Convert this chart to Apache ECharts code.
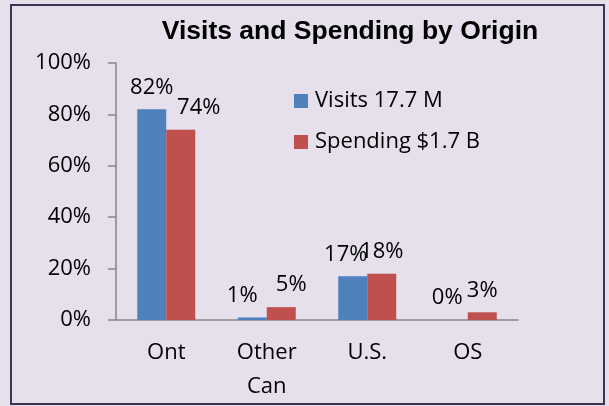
<!DOCTYPE html>
<html>
<head>
<meta charset="utf-8">
<script src="https://cdn.jsdelivr.net/npm/echarts@6/dist/echarts.min.js"></script>
<style>
  html, body { margin: 0; padding: 0; background: #E5E0EC; }
  #frame { position: absolute; left: 10px; top: 4px; width: 591px; height: 397px;
    border: 2px solid #3F3151; }
  #chart { position: absolute; left: 0; top: 0; width: 609px; height: 406px; }
</style>
</head>
<body>
<div id="frame"></div>
<div id="chart"></div>
<script>
// ── data ──
const categories = ["Ont", "Other\nCan", "U.S.", "OS"];
const visits = [82, 1, 17, 0];
const spending = [74, 5, 18, 3];
const yTicks = [0, 20, 40, 60, 80, 100];

// label nudges (Excel moved a few labels sideways to avoid overlap)
const visitsShift = [0, -10, -7, -6];
const spendingShift = [18, 10, 0, 0];

const FONT = "'Open Sans', 'Noto Sans', sans-serif";
const AXIS = "#868686";

const labelStyle = () => ({
  show: true, position: "top", distance: 9,
  fontFamily: FONT, fontSize: 22, color: "#000", lineHeight: 26,
  formatter: (p) => p.value + "%",
});

function items(values, shift) {
  return values.map((v, i) => ({ value: v, label: { offset: [shift[i], 0] } }));
}

const chart = echarts.init(document.getElementById("chart"), null, { renderer: "canvas" });
chart.setOption({
  backgroundColor: "transparent",
  animation: false,
  title: {
    text: "Visits and Spending by Origin",
    left: 345, top: 13, textAlign: "center",
    textStyle: { fontFamily: "'Liberation Sans', Arial, sans-serif", fontWeight: "bold", fontSize: 26.5, color: "#000" },
  },
  legend: {
    orient: "vertical", left: 294, top: 88, padding: 0,
    itemWidth: 14, itemHeight: 14, itemGap: 15, icon: "rect",
    textStyle: { fontFamily: FONT, fontSize: 22, color: "#000", lineHeight: 26, padding: [0, 0, 0, 2] },
    data: ["Visits 17.7 M", "Spending $1.7 B"],
  },
  grid: { left: 116, right: 91, top: 63, bottom: 86, containLabel: false },
  xAxis: {
    type: "category", data: categories,
    axisLine: { lineStyle: { color: AXIS, width: 1.5 } },
    axisTick: { length: 8, lineStyle: { color: AXIS, width: 1.5 } },
    axisLabel: { fontFamily: FONT, fontSize: 22, color: "#000", lineHeight: 34, margin: 16 },
  },
  yAxis: {
    type: "value", min: yTicks[0], max: yTicks[yTicks.length - 1], interval: 20,
    axisLine: { show: true, lineStyle: { color: AXIS, width: 1.5 } },
    axisTick: { show: true, length: 8, lineStyle: { color: AXIS, width: 1.5 } },
    splitLine: { show: false },
    axisLabel: { fontFamily: FONT, fontSize: 22, color: "#000", margin: 25, formatter: "{value}%" },
  },
  series: [
    {
      name: "Visits 17.7 M", type: "bar", barWidth: 29, barGap: "0%",
      itemStyle: { color: "#4F81BD" },
      label: labelStyle(),
      data: items(visits, visitsShift),
    },
    {
      name: "Spending $1.7 B", type: "bar", barWidth: 29, barGap: "0%",
      itemStyle: { color: "#C0504D" },
      label: labelStyle(),
      data: items(spending, spendingShift),
    },
  ],
});
</script>
</body>
</html>
